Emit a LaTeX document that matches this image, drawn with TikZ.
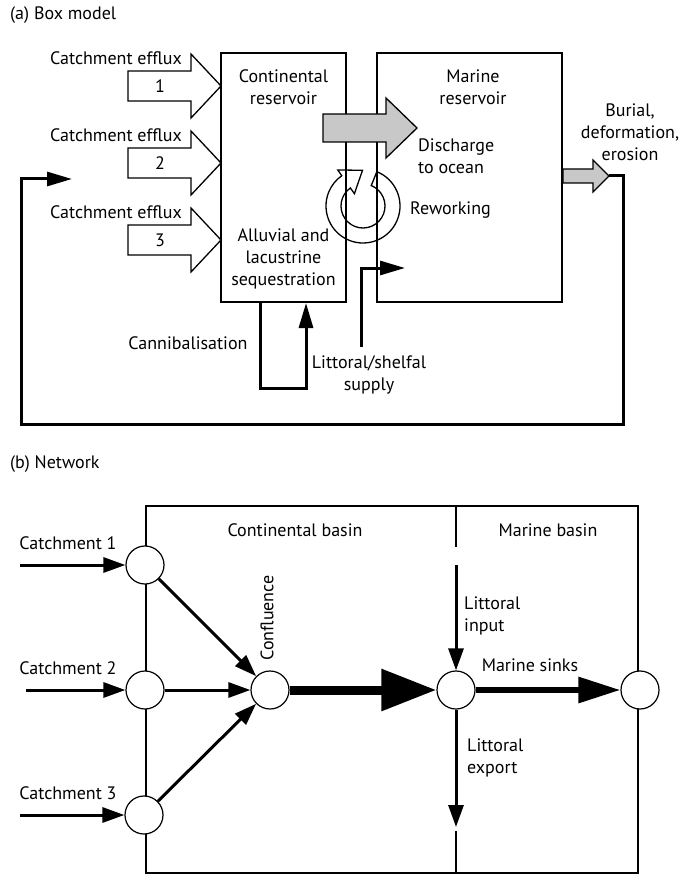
\documentclass[tikz,border=0pt]{standalone}
\usepackage{fontspec}
\setmainfont{PT Sans}
\usetikzlibrary{arrows.meta,positioning}
\definecolor{flux}{HTML}{C8C8C8}

\begin{document}
\begin{tikzpicture}[
    x=1pt,y=-1pt,
    font=\fontsize{18}{22}\selectfont,
    res/.style={draw,line width=2pt,minimum height=249pt,inner sep=0pt},
    lbl/.style={align=center,inner sep=0pt},
    feed/.style={draw,line width=1.3pt,fill=white,line join=miter},
    grey/.style={feed,fill=flux},
    loop/.style={line width=3pt,-{Triangle[length=25pt,width=14pt]}},
    site/.style={circle,draw,fill=white,line width=1.2pt,minimum size=38pt,inner sep=0pt},
    wall/.style={line width=1.5pt},
    flow/.style={line width=3pt,-{Triangle[length=22pt,width=15pt]}}
  ]
    \useasboundingbox (0,0) rectangle (684,877);
    \node[lbl,anchor=west] (ta) at (10,15) {(a) Box model};
    \node[res,minimum width=125pt] (cont) at (283.5,177.5) {};
    \node[res,minimum width=185pt] (mar) at (469.5,177.5) {};
    \node[lbl] (contlbl) at (283.5,87) {Continental\\reservoir};
    \node[lbl] (seq) at (283.5,259) {Alluvial and\\lacustrine\\sequestration};
    \node[lbl] (marlbl) at (473,87) {Marine\\reservoir};
    \node[lbl,align=left,anchor=west] (dis) at (418,156) {Discharge\\to ocean};
    \node[lbl,anchor=west] (rew) at (410,210) {Reworking};
    \node[lbl] (bur) at (630,132) {Burial,\\deformation,\\erosion};
    \foreach \n/\ty in {1/86,2/163,3/240} {
      \draw[feed] (128,\ty-15) -- (191,\ty-15) -- (191,\ty-32) -- (221,\ty) -- (191,\ty+32) -- (191,\ty+15) -- (128,\ty+15) -- cycle;
      \node[lbl] (num\n) at (160,\ty) {\n};
      \node[lbl] (eff\n) at (116,\ty-28) {Catchment efflux};
    }
    \draw[grey] (323,114) -- (386,114) -- (386,98) -- (417,128) -- (386,158) -- (386,142) -- (323,142) -- cycle;
    \draw[grey] (563,169) -- (593,169) -- (593,160) -- (609,176) -- (593,192) -- (593,183) -- (563,183) -- cycle;
    \coordinate (rc) at (363,206);
    \draw[line width=1.3pt,line join=miter] ([shift={(-68:37)}]rc) arc[start angle=-68,end angle=235,radius=37]
      -- ([shift={(235:44)}]rc) -- (362.5,170.3) -- ([shift={(235:15)}]rc) -- ([shift={(235:22)}]rc)
      arc[start angle=235,end angle=-68,radius=22] -- cycle;
    \coordinate (out) at (609,176);
    \coordinate (back) at (72,179);
    \draw[loop] (out) -- (623,176) -- (623,424) -- (21,424) -- (21,179) -- (back);
    \draw[loop] ([xshift=-23.5pt]cont.south) -- ++(0,85) -- ++(46,0) -- ([xshift=22.5pt]cont.south);
    \node[lbl] (can) at (188,343) {Cannibalisation};
    \coordinate (shelf) at (361,347);
    \coordinate (shelfin) at (405,268);
    \draw[loop] (shelf) -- (shelf |- shelfin) -- (shelfin);
    \node[lbl] (lit) at (369,375) {Littoral/shelfal\\supply};

    \node[lbl,anchor=west] (tb) at (10,464) {(b) Network};
    \draw[wall] (146,506) rectangle (638,873);
    \draw[wall] (456,506) -- (456,547);
    \draw[wall] (456,831) -- (456,873);
    \node[lbl] (cbasin) at (295,530) {Continental basin};
    \node[lbl] (mbasin) at (548,530) {Marine basin};
    \node[site] (c1) at (145,565) {};
    \node[site] (c2) at (145,690) {};
    \node[site] (c3) at (144,815) {};
    \node[site] (conf) at (270,690) {};
    \node[site] (m1) at (456,690) {};
    \node[site] (m2) at (640,690) {};
    \foreach \n/\ty/\sx in {1/565/20,2/690/26,3/815/20} {
      \coordinate (in\n) at (\sx,\ty);
      \node[lbl] (cl\n) at (68,\ty-22) {Catchment \n};
      \draw[flow] (in\n) -- (c\n);
      \draw[flow] (c\n) -- (conf);
    }
    \node[lbl,rotate=90] (conflbl) at (267,618) {Confluence};
    \draw[line width=9pt,-{Triangle[length=55pt,width=40pt]}] (conf) -- (m1);
    \draw[line width=6pt,-{Triangle[length=42pt,width=25pt]}] (m1) -- (m2);
    \node[lbl] (sinks) at (530,665) {Marine sinks};
    \coordinate (litin) at (456,565);
    \coordinate (litout) at (456,827);
    \draw[flow] (litin) -- (m1);
    \draw[flow] (m1) -- (litout);
    \node[lbl,align=left,anchor=west] (inlbl) at (464,616) {Littoral\\input};
    \node[lbl,align=left,anchor=west] (outlbl) at (467,758) {Littoral\\export};
  \end{tikzpicture}
\end{document}
